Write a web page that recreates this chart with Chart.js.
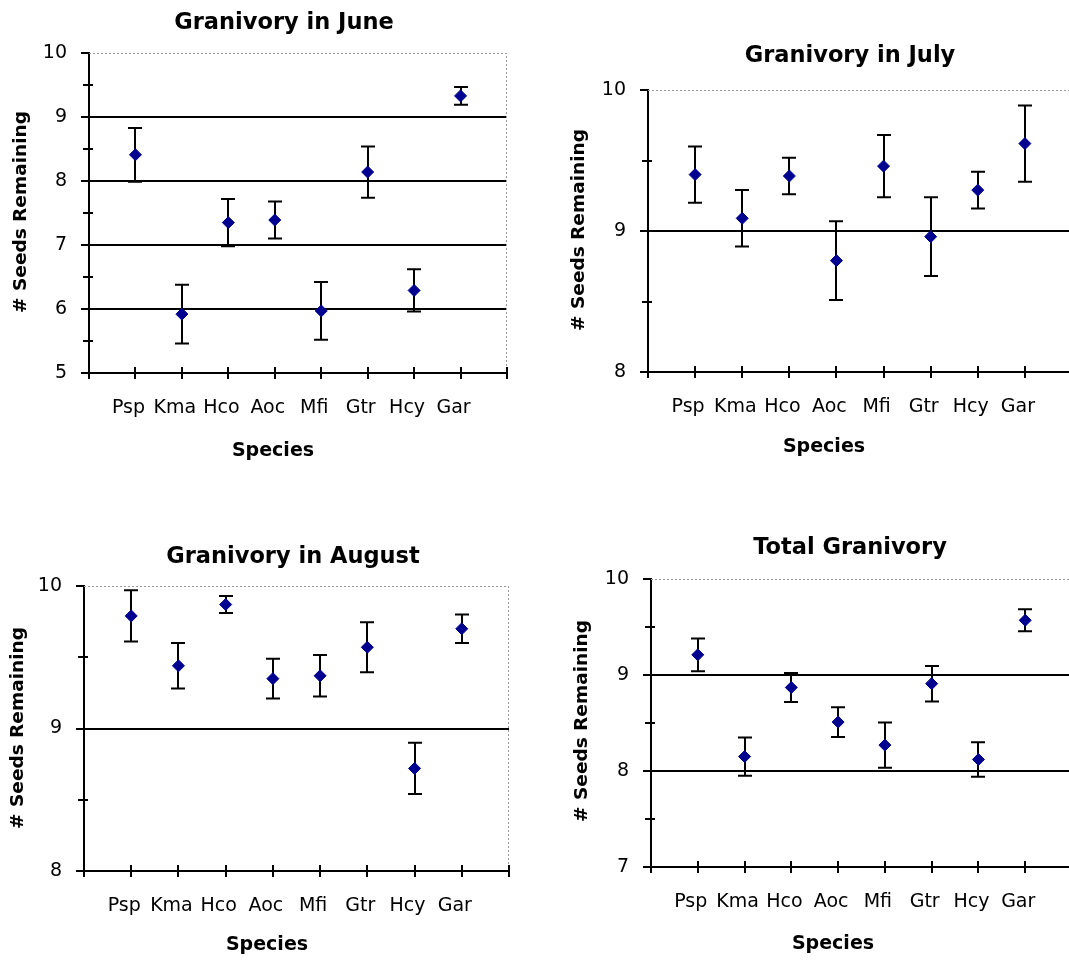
<!DOCTYPE html>
<html>
<head>
<meta charset="utf-8">
<title>Granivory</title>
<script src="https://cdn.jsdelivr.net/npm/chart.js@4.4.1/dist/chart.umd.min.js"></script>
<style>
  html, body { margin: 0; padding: 0; background: #fff; overflow: hidden; width: 1069px; height: 960px; }
  canvas { position: absolute; }
</style>
</head>
<body>
<canvas id="cJune" width="534" height="470" style="left:0;top:0"></canvas>
<canvas id="cJuly" width="545" height="470" style="left:534px;top:0"></canvas>
<canvas id="cAug" width="534" height="490" style="left:0;top:470px"></canvas>
<canvas id="cTotal" width="545" height="490" style="left:534px;top:470px"></canvas>
<script>
// species along the x axis
const species = ['Psp', 'Kma', 'Hco', 'Aoc', 'Mfi', 'Gtr', 'Hcy', 'Gar'];

// mean seeds remaining and error (+/-) per species
const juneMean  = [8.41, 5.92, 7.35, 7.39, 5.97, 8.14, 6.29, 9.33];
const juneErr   = [0.42, 0.46, 0.37, 0.29, 0.45, 0.40, 0.33, 0.14];
const julyMean  = [9.40, 9.09, 9.39, 8.79, 9.46, 8.96, 9.29, 9.62];
const julyErr   = [0.20, 0.20, 0.13, 0.28, 0.22, 0.28, 0.13, 0.27];
const augMean   = [9.79, 9.44, 9.87, 9.35, 9.37, 9.57, 8.72, 9.70];
const augErr    = [0.18, 0.16, 0.06, 0.14, 0.145, 0.175, 0.18, 0.10];
const totalMean = [9.21, 8.15, 8.87, 8.51, 8.27, 8.91, 8.12, 9.57];
const totalErr  = [0.17, 0.20, 0.15, 0.155, 0.235, 0.185, 0.18, 0.115];

Chart.defaults.font.family = '"DejaVu Sans", sans-serif';
Chart.defaults.font.size = 19;
Chart.defaults.color = '#000';

// ticks, plot border, error bars and the text labels
const panelDecor = {
  id: 'panelDecor',
  beforeDatasetsDraw(chart, args, o) {
    const { ctx, chartArea: a, scales: { x, y } } = chart;
    ctx.save();
    ctx.strokeStyle = '#9a9a9a';
    ctx.lineWidth = 1;
    ctx.setLineDash([2, 2]);
    ctx.beginPath();
    ctx.moveTo(a.left, a.top + 0.5);
    ctx.lineTo(a.right - 0.5, a.top + 0.5);
    ctx.lineTo(a.right - 0.5, a.bottom);
    ctx.stroke();
    ctx.setLineDash([]);

    ctx.strokeStyle = '#000';
    ctx.lineWidth = 2;
    ctx.beginPath();
    x.ticks.forEach(t => {
      const px = Math.round(x.getPixelForValue(t.value));
      ctx.moveTo(px, a.bottom - 6);
      ctx.lineTo(px, a.bottom + 6);
    });
    y.ticks.forEach(t => {
      const py = Math.round(y.getPixelForValue(t.value));
      if (Number.isInteger(t.value)) {
        ctx.moveTo(a.left - 8, py);
        ctx.lineTo(a.left, py);
      } else {
        ctx.moveTo(a.left - 6, py);
        ctx.lineTo(a.left + 4, py);
      }
    });
    ctx.stroke();

    // error bars
    const pts = chart.data.datasets[0].data;
    ctx.beginPath();
    pts.forEach((p, i) => {
      const px = Math.round(x.getPixelForValue(p.x));
      const top = y.getPixelForValue(p.y + o.err[i]);
      const bot = y.getPixelForValue(p.y - o.err[i]);
      ctx.moveTo(px, top);
      ctx.lineTo(px, bot);
      ctx.moveTo(px - 7, top);
      ctx.lineTo(px + 7, top);
      ctx.moveTo(px - 7, bot);
      ctx.lineTo(px + 7, bot);
    });
    ctx.stroke();
    ctx.restore();
  },
  afterDraw(chart, args, o) {
    const ctx = chart.ctx;
    ctx.save();
    ctx.fillStyle = '#000';
    ctx.textAlign = 'center';
    ctx.textBaseline = 'middle';
    ctx.font = 'bold 22.5px "DejaVu Sans"';
    ctx.fillText(o.title, o.titleAt[0], o.titleAt[1]);
    ctx.font = 'bold 19px "DejaVu Sans"';
    ctx.fillText('Species', o.xTitleAt[0], o.xTitleAt[1]);
    ctx.font = 'bold 18.5px "DejaVu Sans"';
    ctx.translate(o.yTitleAt[0], o.yTitleAt[1]);
    ctx.rotate(-Math.PI / 2);
    ctx.fillText('# Seeds Remaining', 0, 0);
    ctx.restore();
  }
};

// layout of the four panels, page coordinates
const panels = [
  { id: 'cJune', left: 0, top: 0, area: [89, 53, 507, 373], min: 5, max: 10,
    title: 'Granivory in June', titleAt: [284, 23], yTitleAt: [21, 212], xTitleAt: [273, 451],
    mean: juneMean, err: juneErr },
  { id: 'cJuly', left: 534, top: 0, area: [648, 90, 1072, 372], min: 8, max: 10,
    title: 'Granivory in July', titleAt: [850, 56], yTitleAt: [579, 230], xTitleAt: [824, 447],
    mean: julyMean, err: julyErr },
  { id: 'cAug', left: 0, top: 470, area: [84, 586, 509, 871], min: 8, max: 10,
    title: 'Granivory in August', titleAt: [293, 557], yTitleAt: [18, 728], xTitleAt: [267, 945],
    mean: augMean, err: augErr },
  { id: 'cTotal', left: 534, top: 470, area: [651, 579, 1073, 867], min: 7, max: 10,
    title: 'Total Granivory', titleAt: [850, 548], yTitleAt: [582, 721], xTitleAt: [833, 944],
    mean: totalMean, err: totalErr }
];

panels.forEach(p => {
  const canvas = document.getElementById(p.id);
  const W = canvas.width, H = canvas.height;
  const L = p.area[0] - p.left, T = p.area[1] - p.top;
  const R = p.area[2] - p.left, B = p.area[3] - p.top;
  const shift = pt => [pt[0] - p.left, pt[1] - p.top];

  new Chart(canvas, {
    type: 'scatter',
    data: {
      datasets: [{
        data: p.mean.map((v, i) => ({ x: i + 1, y: v })),
        pointStyle: 'rectRot',
        pointRadius: 6,
        backgroundColor: '#000090',
        borderColor: '#000090',
        borderWidth: 1
      }]
    },
    plugins: [panelDecor],
    options: {
      responsive: false,
      animation: false,
      events: [],
      layout: { padding: { left: 0, top: T, right: W - R, bottom: 0 } },
      plugins: {
        legend: { display: false },
        tooltip: { enabled: false },
        panelDecor: {
          err: p.err,
          title: p.title,
          titleAt: shift(p.titleAt),
          yTitleAt: shift(p.yTitleAt),
          xTitleAt: shift(p.xTitleAt)
        }
      },
      scales: {
        x: {
          type: 'linear',
          min: 0,
          max: species.length + 1,
          afterFit: s => { s.height = H - B; s.paddingLeft = 0; s.paddingRight = 0; },
          grid: { display: false, drawTicks: false },
          border: { display: true, color: '#000', width: 2 },
          ticks: {
            stepSize: 1,
            autoSkip: false,
            maxRotation: 0,
            padding: 24,
            labelOffset: -7,
            callback: v => species[v - 1] || ''
          }
        },
        y: {
          min: p.min,
          max: p.max,
          afterFit: s => { s.width = L; s.paddingTop = 0; s.paddingBottom = 0; },
          grid: {
            drawTicks: false,
            lineWidth: 2,
            color: c => (Number.isInteger(c.tick.value) && c.tick.value > p.min && c.tick.value < p.max)
              ? '#000' : 'rgba(0,0,0,0)'
          },
          border: { display: true, color: '#000', width: 2 },
          ticks: {
            stepSize: 0.5,
            autoSkip: false,
            maxTicksLimit: 20,
            padding: 22,
            callback: v => Number.isInteger(v) ? String(v) : ''
          }
        }
      }
    }
  });
});
</script>
</body>
</html>
